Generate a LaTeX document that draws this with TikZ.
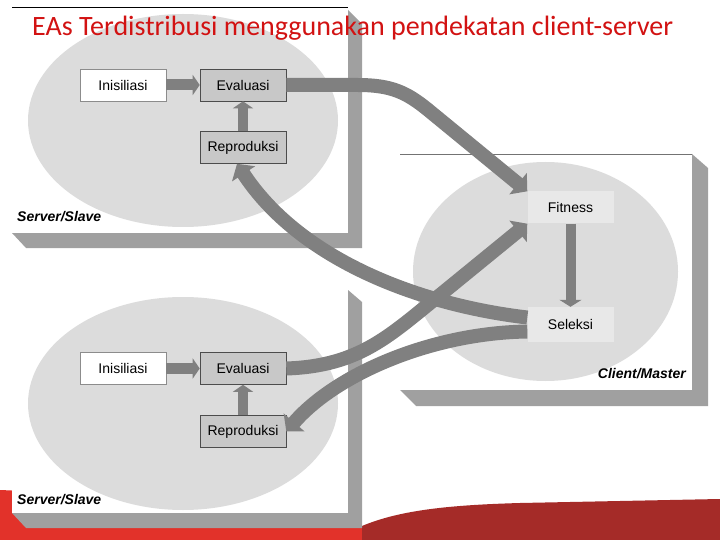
\documentclass[tikz,border=0pt]{standalone}
\usepackage{fontspec}
\setmainfont{Liberation Sans}
\newfontfamily\titlefont{Carlito}
\usetikzlibrary{shapes.geometric, arrows.meta, positioning}

\definecolor{ellgray}{RGB}{220,220,220}
\definecolor{shadegray}{RGB}{160,160,160}
\definecolor{flowgray}{RGB}{128,128,128}
\definecolor{boxdark}{RGB}{200,200,200}
\definecolor{boxlight}{RGB}{232,232,232}
\definecolor{titlered}{RGB}{210,18,18}
\definecolor{brightred}{RGB}{226,50,42}
\definecolor{darkred}{RGB}{165,43,40}

\begin{document}
\begin{tikzpicture}[x=1pt,y=-1pt]
\tikzset{
  box/.style={rectangle, minimum width=86pt, minimum height=32pt, inner sep=0pt, font=\fontsize{14}{16}\selectfont},
  evalbox/.style={box, fill=boxdark, draw=black!70, line width=0.6pt},
  clientbox/.style={box, fill=boxlight},
  cloud/.style={ellipse, fill=ellgray, inner sep=0pt},
  role/.style={font=\bfseries\itshape\fontsize{14}{16}\selectfont, inner sep=0pt},
  shade/.style={fill=shadegray},
  flow/.style={draw=flowgray, line width=14pt, -{Triangle[length=12pt,width=27pt]}},
  step arrow/.style={draw=flowgray, line width=11pt, -{Triangle[length=7pt,width=20pt]}}
}
\useasboundingbox (0,0) rectangle (720,540);
\fill[white] (0,0) rectangle (720,540);

% slide background at the bottom
\fill[brightred] (0,490) .. controls (150,496) and (300,516) .. (362,526) -- (362,540) -- (0,540) -- cycle;
\fill[darkred] (362,526) .. controls (400,510) and (450,505) .. (520,503) -- (720,499) -- (720,540) -- (362,540) -- cycle;

% server/slave panels and client/master panel
\fill[shade] (348,10) -- (362,24) -- (362,248) -- (26,248) -- (12,233) -- (348,233) -- cycle;
\fill[white] (12,7) rectangle (348,233);
\draw[black, line width=0.8pt] (12,7) -- (348,7);

\fill[shade] (348,290) -- (362,302) -- (362,528) -- (26,528) -- (12,513) -- (348,513) -- cycle;
\fill[white] (12,290) rectangle (348,513);

\fill[shade] (692,154) -- (708,168) -- (708,406) -- (416,406) -- (400,390) -- (692,390) -- cycle;
\fill[white] (400,154) rectangle (692,390);
\draw[black!55, line width=0.8pt] (400,154) -- (692,154);

\node[cloud, minimum width=310pt, minimum height=213pt] (ell1) at (183,120.5) {};
\node[cloud, minimum width=310pt, minimum height=213pt] (ell2) at (183,403.5) {};
\node[cloud, minimum width=265pt, minimum height=219pt] (ell3) at (545.5,271.5) {};

% server 1
\node[box, fill=white, draw=black!45, line width=0.5pt] (ini1) at (123,85) {Inisiliasi};
\node[evalbox] (eva1) at (243,85) {Evaluasi};
\node[evalbox] (rep1) at (243,147.5) {Reproduksi};
\node[role, anchor=west] (slave1) at (17,217) {Server/Slave};

% server 2
\node[box, fill=white, draw=black!45, line width=0.5pt] (ini2) at (123,368.5) {Inisiliasi};
\node[evalbox] (eva2) at (243,368.5) {Evaluasi};
\node[evalbox] (rep2) at (243,431.5) {Reproduksi};
\node[role, anchor=west] (slave2) at (17,500) {Server/Slave};

% client
\node[clientbox] (fit) at (570.5,207.5) {Fitness};
\node[clientbox, minimum height=35pt] (sel) at (570.5,324.5) {Seleksi};
\node[role, anchor=east] (master) at (686,374) {Client/Master};

\draw[step arrow] (ini1) -- (eva1);
\draw[step arrow, line width=10pt] (rep1) -- (eva1);
\draw[step arrow] (ini2) -- (eva2);
\draw[step arrow, line width=10pt] (rep2) -- (eva2);
\draw[step arrow, line width=10pt, -{Triangle[length=7pt,width=22pt]}] (fit) -- (sel);

\draw[flow] (eva1.east) -- (358,85) .. controls (392,85) and (407,93) .. (427,109) -- (fit.north west);
\draw[flow] ([yshift=7pt]sel.west) .. controls (420,305) and (300,260) .. ([xshift=-6pt]rep1.south);
\draw[flow] (eva2.east) .. controls (360,366) and (390,335) .. (440,295) -- (fit.south west);
\draw[flow] ([yshift=-7pt]sel.west) .. controls (430,333) and (335,375) .. (rep2.east);

\node[font=\titlefont\fontsize{28}{32}\selectfont, text=titlered, anchor=base west, inner sep=0pt] (title) at (32,36) {EAs Terdistribusi menggunakan pendekatan client-server};
\end{tikzpicture}
\end{document}
